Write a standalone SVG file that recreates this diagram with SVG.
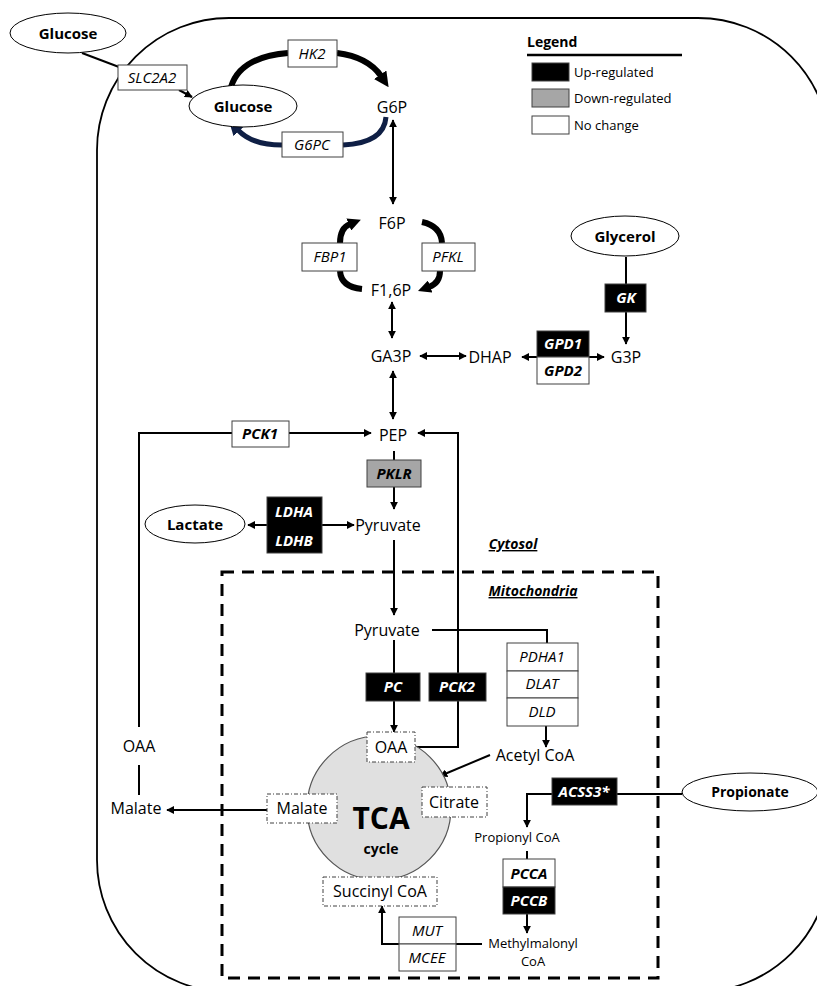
<svg xmlns="http://www.w3.org/2000/svg" width="817" height="986" viewBox="0 0 817 986">
<style>
text{font-family:"Open Sans","Liberation Sans",sans-serif;text-anchor:middle}
.m{font-size:16px;fill:#000}
.s{font-size:13px;fill:#000}
.eb{font-size:15px;font-weight:bold;fill:#000}
.g{font-size:15px;font-style:italic;fill:#000}
.gbk{font-size:15px;font-style:italic;font-weight:bold;fill:#000}
.gw{font-size:15px;font-style:italic;font-weight:bold;fill:#fff}
.box{fill:#fff;stroke:#404040;stroke-width:1}
.up{fill:#000;stroke:#404040;stroke-width:1}
.down{fill:#a6a6a6;stroke:#404040;stroke-width:1}
.dd{fill:#fff;stroke:#404040;stroke-width:1;stroke-dasharray:4 2 1 2}
.ell{fill:#fff;stroke:#000;stroke-width:1}
.ln{fill:none;stroke:#000;stroke-width:2}
.thick{fill:none;stroke:#000;stroke-width:6}
.navy{fill:none;stroke:#0f1f45;stroke-width:5}
.lab{font-size:14px;font-weight:bold;font-style:italic;text-decoration:underline;fill:#000}
.leg{font-size:13px;fill:#000;text-anchor:start}
</style>
<defs>
<marker id="arr" viewBox="0 0 10 10" refX="9" refY="5" markerWidth="8" markerHeight="8" markerUnits="userSpaceOnUse" orient="auto-start-reverse">
<path d="M0,0 L10,5 L0,10 z" fill="#000"/>
</marker>
<marker id="big" viewBox="0 0 10 10" refX="1" refY="5" markerWidth="15" markerHeight="15" markerUnits="userSpaceOnUse" orient="auto">
<path d="M0,0 L10,5 L0,10 z" fill="#000"/>
</marker>
<marker id="bignavy" viewBox="0 0 10 10" refX="1" refY="5" markerWidth="15" markerHeight="15" markerUnits="userSpaceOnUse" orient="auto">
<path d="M0,0 L10,5 L0,10 z" fill="#0f1f45"/>
</marker>
<marker id="mid" viewBox="0 0 10 10" refX="1" refY="5" markerWidth="13" markerHeight="13" markerUnits="userSpaceOnUse" orient="auto">
<path d="M0,0 L10,5 L0,10 z" fill="#000"/>
</marker>
</defs>

<g id="cell">
<rect x="97" y="18" width="733" height="974" rx="132" fill="none" stroke="#000" stroke-width="1.8"/>
</g>
<g id="mitochondria">
<rect x="222" y="572" width="436" height="406" fill="none" stroke="#000" stroke-width="3" stroke-dasharray="12,8"/>
</g>

<g id="legend">
<text x="527" y="47" style="font-size:14px;font-weight:bold;text-anchor:start">Legend</text>
<line x1="527" y1="55" x2="682" y2="55" stroke="#000" stroke-width="2.5"/>
<rect x="532" y="63" width="37" height="18" class="up"/>
<text x="574" y="77" class="leg">Up-regulated</text>
<rect x="532" y="89" width="37" height="18" class="down"/>
<text x="574" y="103" class="leg">Down-regulated</text>
<rect x="532" y="116" width="37" height="18" class="box"/>
<text x="574" y="130" class="leg">No change</text>
</g>

<g id="connectors">
<line x1="82" y1="53" x2="119" y2="67" class="ln"/>
<line x1="179" y1="90" x2="192" y2="97" class="ln" stroke-width="1.5" marker-end="url(#arr)"/>
<path d="M231,87 Q240,57 288,53" class="thick" stroke-width="7"/>
<path d="M337,53 Q368,57 381,76" class="thick" stroke-width="6" marker-end="url(#big)"/>
<path d="M386,117 Q384,143 343,145" class="navy"/>
<path d="M282,145 Q252,145 238,130" class="navy" marker-end="url(#bignavy)"/>
<line x1="393" y1="120" x2="393" y2="204" class="ln" marker-start="url(#arr)" marker-end="url(#arr)"/>
<path d="M362,289 Q341,287 340,271" class="thick"/>
<path d="M340,243 Q340,228 350,224" class="thick" marker-end="url(#mid)"/>
<path d="M422,222 Q441,226 442,243" class="thick"/>
<path d="M440,271 Q440,283 429,287" class="thick" marker-end="url(#mid)"/>
<line x1="392" y1="302" x2="392" y2="338" class="ln" marker-start="url(#arr)" marker-end="url(#arr)"/>
<line x1="420" y1="356" x2="466" y2="356" class="ln" marker-start="url(#arr)" marker-end="url(#arr)"/>
<line x1="522" y1="357" x2="604" y2="357" class="ln" marker-start="url(#arr)" marker-end="url(#arr)"/>
<line x1="626" y1="257" x2="626" y2="284" class="ln"/>
<line x1="626" y1="312" x2="626" y2="344" class="ln" marker-end="url(#arr)"/>
<line x1="393" y1="371" x2="393" y2="419" class="ln" marker-start="url(#arr)" marker-end="url(#arr)"/>
<path d="M139,727 V433 H232" class="ln"/>
<line x1="289" y1="433" x2="371" y2="433" class="ln" marker-end="url(#arr)"/>
<path d="M415,747 H458 V433 H418" class="ln" marker-end="url(#arr)"/>
<line x1="139" y1="765" x2="139" y2="795" class="ln"/>
<line x1="394" y1="451" x2="394" y2="460" class="ln"/>
<line x1="394" y1="487" x2="394" y2="509" class="ln" marker-end="url(#arr)"/>
<line x1="267" y1="525" x2="248" y2="525" class="ln" marker-end="url(#arr)"/>
<line x1="322" y1="525" x2="354" y2="525" class="ln" marker-end="url(#arr)"/>
<line x1="394" y1="540" x2="394" y2="615" class="ln" marker-end="url(#arr)"/>
<path d="M432,630 H547 V643" class="ln"/>
<line x1="546" y1="726" x2="546" y2="747" class="ln" marker-end="url(#arr)"/>
<line x1="490" y1="755" x2="440" y2="776" class="ln" marker-end="url(#arr)"/>
<line x1="394" y1="640" x2="394" y2="673" class="ln"/>
<line x1="394" y1="701" x2="394" y2="732" class="ln" marker-end="url(#arr)"/>
<line x1="267" y1="810" x2="167" y2="810" class="ln" marker-end="url(#arr)"/>
<line x1="682" y1="794" x2="617" y2="794" class="ln"/>
<path d="M552,794 H527 V827" class="ln" marker-end="url(#arr)"/>
<line x1="527" y1="851" x2="527" y2="860" class="ln"/>
<line x1="527" y1="914" x2="527" y2="933" class="ln" marker-end="url(#arr)"/>
<line x1="482" y1="944" x2="456" y2="944" class="ln"/>
<path d="M399,944 H382 V906" class="ln" marker-end="url(#arr)"/>
</g>

<g id="glucose-out"><ellipse cx="68" cy="33" rx="58" ry="20" class="ell"/><text x="68" y="39" class="eb">Glucose</text></g>
<g id="SLC2A2"><rect x="118" y="65" width="69" height="25" class="box"/><text x="152" y="83" class="g">SLC2A2</text></g>
<g id="glucose-in"><ellipse cx="243" cy="106" rx="54" ry="21" class="ell"/><text x="243" y="112" class="eb">Glucose</text></g>
<g id="HK2"><rect x="288" y="40" width="49" height="27" class="box"/><text x="312" y="59" class="g">HK2</text></g>
<g id="G6PC"><rect x="282" y="132" width="61" height="25" class="box"/><text x="312" y="150" class="g">G6PC</text></g>
<g id="G6P"><text x="392" y="113" class="m">G6P</text></g>
<g id="F6P"><text x="392" y="229" class="m">F6P</text></g>
<g id="FBP1"><rect x="302" y="243" width="55" height="28" class="box"/><text x="330" y="262" class="g">FBP1</text></g>
<g id="PFKL"><rect x="422" y="243" width="53" height="28" class="box"/><text x="448" y="262" class="g">PFKL</text></g>
<g id="F16P"><text x="391" y="296" class="m">F1,6P</text></g>
<g id="GA3P"><text x="391" y="362" class="m">GA3P</text></g>
<g id="DHAP"><text x="490" y="363" class="m">DHAP</text></g>
<g id="GPD"><rect x="537" y="331" width="52" height="26" class="up"/><text x="563" y="349" class="gw">GPD1</text><rect x="537" y="357" width="52" height="27" class="box"/><text x="563" y="376" class="gbk">GPD2</text></g>
<g id="G3P"><text x="626" y="363" class="m">G3P</text></g>
<g id="glycerol"><ellipse cx="625" cy="236" rx="54" ry="20" class="ell"/><text x="625" y="242" class="eb">Glycerol</text></g>
<g id="GK"><rect x="605" y="284" width="41" height="28" class="up"/><text x="626" y="303" class="gw">GK</text></g>
<g id="PEP"><text x="393" y="441" class="m">PEP</text></g>
<g id="PCK1"><rect x="232" y="421" width="57" height="26" class="box"/><text x="260" y="439" class="gbk">PCK1</text></g>
<g id="PKLR"><rect x="367" y="460" width="54" height="27" class="down"/><text x="394" y="479" class="gbk">PKLR</text></g>
<g id="pyruvate-cyt"><text x="388" y="531" class="m">Pyruvate</text></g>
<g id="LDH"><rect x="267" y="497" width="55" height="56" class="up"/><text x="294" y="517" class="gw">LDHA</text><text x="294" y="546" class="gw">LDHB</text></g>
<g id="lactate"><ellipse cx="195" cy="524" rx="50" ry="19" class="ell"/><text x="195" y="530" class="eb">Lactate</text></g>
<g id="OAA-cyt"><text x="139" y="752" class="m">OAA</text></g>
<g id="malate-cyt"><text x="136" y="814" class="m">Malate</text></g>
<g id="cytosol-label"><text x="513" y="549" class="lab">Cytosol</text></g>
<g id="mito-label"><text x="533" y="596" class="lab">Mitochondria</text></g>
<g id="pyruvate-mito"><text x="387" y="636" class="m">Pyruvate</text></g>
<g id="PDH"><rect x="507" y="643" width="71" height="28" class="box"/><text x="542" y="662" class="g">PDHA1</text><rect x="507" y="671" width="71" height="27" class="box"/><text x="542" y="689" class="g">DLAT</text><rect x="507" y="698" width="71" height="28" class="box"/><text x="542" y="717" class="g">DLD</text></g>
<g id="acetylcoa"><text x="535" y="761" class="m">Acetyl CoA</text></g>
<g id="PC"><rect x="366" y="673" width="54" height="28" class="up"/><text x="393" y="692" class="gw">PC</text></g>
<g id="PCK2"><rect x="429" y="673" width="57" height="28" class="up"/><text x="457" y="692" class="gw">PCK2</text></g>
<g id="TCA"><circle cx="379" cy="808" r="72" fill="#e0e0e0" stroke="#555" stroke-width="1.2"/><text x="381" y="829" style="font-size:30px;font-weight:bold">TCA</text><text x="381" y="854" style="font-size:14px;font-weight:bold">cycle</text></g>
<g id="OAA-mito"><rect x="367" y="732" width="48" height="30" class="dd"/><text x="391" y="753" class="m">OAA</text></g>
<g id="malate-mito"><rect x="267" y="794" width="70" height="29" class="dd"/><text x="302" y="814" class="m">Malate</text></g>
<g id="citrate"><rect x="422" y="787" width="65" height="30" class="dd"/><text x="454" y="808" class="m">Citrate</text></g>
<g id="succinylcoa"><rect x="323" y="877" width="114" height="29" class="dd"/><text x="380" y="897" class="m">Succinyl CoA</text></g>
<g id="ACSS3"><rect x="552" y="778" width="65" height="27" class="up"/><text x="584" y="797" class="gw">ACSS3*</text></g>
<g id="propionate"><ellipse cx="750" cy="792" rx="68" ry="19" class="ell"/><text x="750" y="797" class="eb" style="font-size:14px">Propionate</text></g>
<g id="propionylcoa"><text x="517" y="842" class="s">Propionyl CoA</text></g>
<g id="PCC"><rect x="503" y="859" width="52" height="28" class="box"/><text x="529" y="879" class="gbk">PCCA</text><rect x="503" y="887" width="52" height="27" class="up"/><text x="529" y="906" class="gw">PCCB</text></g>
<g id="methylmalonylcoa"><text x="533" y="948" class="s">Methylmalonyl</text><text x="533" y="966" class="s">CoA</text></g>
<g id="MUT"><rect x="399" y="917" width="57" height="27" class="box"/><text x="427" y="936" class="g">MUT</text><rect x="399" y="944" width="57" height="27" class="box"/><text x="427" y="963" class="g">MCEE</text></g>
</svg>
